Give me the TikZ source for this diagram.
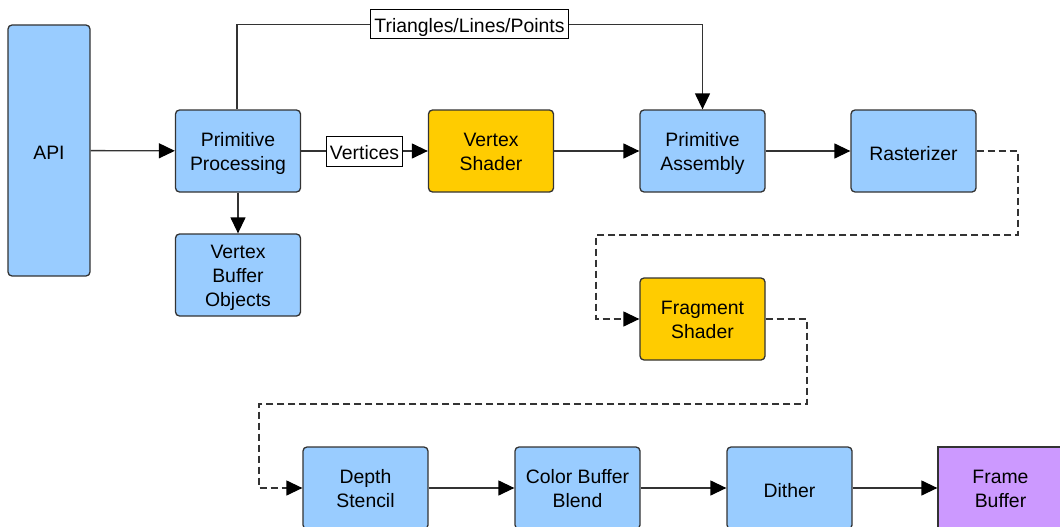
\documentclass[tikz,border=0pt]{standalone}
\usepackage{fontspec}
\setmainfont{Liberation Sans}
\usetikzlibrary{arrows.meta}
\definecolor{stageblue}{HTML}{99CCFF}
\definecolor{shaderyellow}{HTML}{FFCC00}
\definecolor{bufferpurple}{HTML}{CC99FF}
\definecolor{edge}{HTML}{333333}
\tikzset{
  stage/.style={draw=edge, line width=1.3pt, rounded corners=4pt, fill=stageblue,
    minimum width=125pt, minimum height=82pt, inner sep=0pt, align=center,
    font=\fontsize{19.4}{24}\selectfont, text height=18pt, text depth=0pt},
  twolines/.style={text height=43pt, text depth=4pt},
  threelines/.style={text height=67pt, text depth=4pt},
  shader/.style={stage, fill=shaderyellow},
  fbuf/.style={stage, fill=bufferpurple, rounded corners=0pt},
  tag/.style={draw=black, line width=1pt, fill=white, inner xsep=4pt, inner ysep=0pt,
    minimum height=29pt, font=\fontsize{19.4}{24}\selectfont,
    text height=20pt, text depth=4pt},
  flow/.style={draw=edge, line width=1.3pt,
    -{Triangle[length=16pt,width=15pt,color=black,fill=black]}},
  dflow/.style={flow, dash pattern=on 7pt off 4pt}
}
\begin{document}
\begin{tikzpicture}[x=1pt,y=-1pt]
\useasboundingbox (0,0) rectangle (1060,527);
\clip (0,0) rectangle (1060,527);

% pipeline stages
\node[stage, minimum width=82pt, minimum height=251pt] (api) at (49,150.5) {API};
\node[stage, twolines] (pp)  at (238,151)   {Primitive\\Processing};
\node[stage, threelines] (vbo) at (238,275) {Vertex\\Buffer\\Objects};
\node[shader, twolines] (vs) at (491,151)   {Vertex\\Shader};
\node[stage, twolines] (pa)  at (702.5,151) {Primitive\\Assembly};
\node[stage] (ras) at (913.5,151) {Rasterizer};
\node[shader, twolines] (fs) at (702.5,319) {Fragment\\Shader};
\node[stage, twolines] (ds)  at (365.5,488) {Depth\\Stencil};
\node[stage, twolines] (cbb) at (577.5,488) {Color Buffer\\Blend};
\node[stage] (dit) at (789.5,488) {Dither};
\node[fbuf, twolines]  (fb)  at (1000.5,488) {Frame\\Buffer};

% bend points of the dashed routes
\coordinate (r1) at (1018,235);
\coordinate (r2) at (596,235);
\coordinate (f1) at (807,404);
\coordinate (f2) at (259,404);

% solid connectors
\draw[flow] (api) -- (pp);
\draw[flow] (pp) -- (vs);
\draw[flow] (pp) -- (vbo);
\draw[flow] (vs) -- (pa);
\draw[flow] (pa) -- (ras);
\draw[flow] ([xshift=-1pt]pp.north) -- ++(0,-85) -| (pa.north);
\draw[flow] (ds) -- (cbb);
\draw[flow] (cbb) -- (dit);
\draw[flow] (dit) -- (fb);

% dashed connectors
\draw[dflow] (ras.east) -| (r1) -- (r2) |- (fs.west);
\draw[dflow] (fs.east) -| (f1) -- (f2) |- (ds.west);

% edge labels
\node[tag] (tri) at (469.5,24.5) {Triangles/Lines/Points};
\node[tag, inner xsep=3.5pt, minimum height=30pt] (vert) at (364.5,151) {Vertices};
\end{tikzpicture}
\end{document}
